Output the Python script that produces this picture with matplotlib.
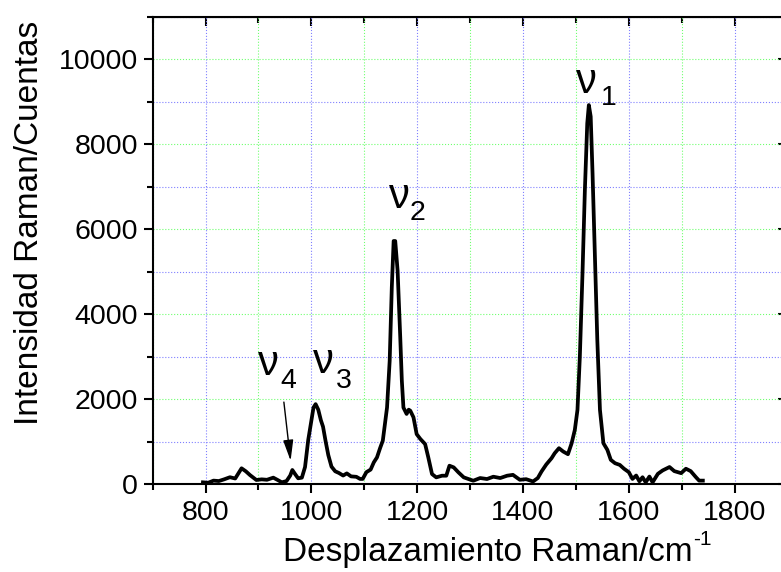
import numpy as np
import matplotlib
matplotlib.use("Agg")
import matplotlib.pyplot as plt
from matplotlib.ticker import MultipleLocator

plt.rcParams['font.family'] = ['Liberation Sans', 'DejaVu Sans']

# Raman spectrum
shift = [795, 805, 815, 825, 835, 846, 856, 868, 876, 884, 896, 906, 916, 928,
         937, 944, 953, 960, 964, 970, 975, 982, 988, 994, 1000, 1004, 1008,
         1013, 1018, 1022, 1027, 1032, 1038, 1045, 1052, 1060, 1067, 1075, 1085,
         1092, 1097, 1104, 1112, 1118, 1124, 1130, 1135, 1140, 1143, 1148, 1152,
         1155.5, 1158.5, 1163, 1168, 1171, 1174, 1180, 1184, 1187, 1193, 1199,
         1206, 1215, 1221, 1228, 1236, 1247, 1255, 1261, 1269, 1278, 1288, 1297,
         1306, 1319, 1332, 1344, 1357, 1370, 1381, 1394, 1406, 1419, 1428, 1435,
         1444, 1454, 1460, 1468, 1476, 1485, 1492, 1498, 1503, 1507.5, 1512.5,
         1517, 1521.5, 1524.5, 1528, 1531.5, 1536, 1540.5, 1545.5, 1552, 1559.5,
         1566, 1574, 1583, 1591, 1600, 1607, 1614, 1620, 1626, 1632, 1639, 1645,
         1655, 1664, 1677, 1686, 1699, 1708, 1717, 1727, 1733, 1740]
counts = [40, 30, 80, 70, 110, 160, 130, 370, 300, 210, 95, 110, 100, 150,
          90, 40, 70, 200, 330, 220, 135, 150, 400, 1035, 1500, 1800, 1880,
          1750, 1500, 1350, 1000, 680, 410, 300, 260, 200, 250, 180, 170,
          120, 120, 280, 340, 510, 627, 850, 1020, 1500, 1800, 2900, 4625,
          5720, 5720, 5020, 3450, 2430, 1800, 1650, 1750, 1725, 1570, 1175,
          1060, 940, 627, 235, 157, 196, 196, 431, 392, 274, 157, 118,
          78, 141, 118, 172, 141, 196, 216, 100, 114, 60, 141, 294,
          460, 608, 726, 843, 765, 702, 961, 1274, 1745, 3000, 4960,
          6920, 8490, 8920, 8650, 7310, 5350, 3390, 1745, 961, 804,
          569, 490, 450, 360, 280, 120, 200, 64, 160, 40, 176, 40,
          240, 320, 400, 304, 256, 360, 304, 160, 80, 80]

# band labels: (subscript, symbol position, subscript position)
bands = [
    ('1', (1500, 9200), (1547, 8918)),
    ('2', (1146, 6494), (1186, 6212)),
    ('3', (1003, 2612), (1046, 2259)),
    ('4', (899, 2565), (942, 2259)),
]
arrow_tail = (948, 1929)
arrow_head = (960.7, 548)

fig = plt.figure(figsize=(7.81, 5.72), dpi=100)
ax = fig.add_axes([0.1955, 0.1538, 0.8128, 0.817])

ax.plot(shift, counts, color='black', lw=2.7, solid_joinstyle='round')

ax.set_xlim(700, 1900)
ax.set_ylim(0, 11000)
ax.xaxis.set_major_locator(MultipleLocator(200))
ax.xaxis.set_minor_locator(MultipleLocator(100))
ax.yaxis.set_major_locator(MultipleLocator(2000))
ax.yaxis.set_minor_locator(MultipleLocator(1000))

ax.xaxis.grid(True, which='major', color='#8080ff', ls=':', lw=0.8)
ax.xaxis.grid(True, which='minor', color='#70ff70', ls=':', lw=0.8)
ax.yaxis.grid(True, which='major', color='#70ff70', ls=':', lw=0.8)
ax.yaxis.grid(True, which='minor', color='#8080ff', ls=':', lw=0.8)
ax.set_axisbelow(True)

for s in ax.spines.values():
    s.set_linewidth(1.5)
ax.tick_params(which='both', direction='out', width=1.5, labelsize=20.5)
ax.tick_params(which='major', length=6.5)
ax.tick_params(which='minor', length=4)
ax.tick_params(axis='x', pad=5)
ax.tick_params(axis='y', pad=4)

top = ax.secondary_xaxis('top')
top.xaxis.set_major_locator(MultipleLocator(200))
top.xaxis.set_minor_locator(MultipleLocator(100))
top.tick_params(which='both', direction='in', width=1.5, labeltop=False)
top.tick_params(which='major', length=6.5)
top.tick_params(which='minor', length=4)
right = ax.secondary_yaxis('right')
right.yaxis.set_major_locator(MultipleLocator(2000))
right.yaxis.set_minor_locator(MultipleLocator(1000))
right.tick_params(which='both', direction='in', width=1.5, labelright=False)
right.tick_params(which='major', length=6.5)
right.tick_params(which='minor', length=4)

for sub, p_nu, p_sub in bands:
    ax.text(p_nu[0], p_nu[1], 'ν', fontsize=30, ha='left', va='baseline')
    ax.text(p_sub[0], p_sub[1], sub, fontsize=20.5, ha='left', va='baseline')

ax.annotate('', xy=arrow_head, xytext=arrow_tail,
            arrowprops=dict(arrowstyle='-|>,head_length=0.9,head_width=0.22',
                            color='black', lw=1, mutation_scale=14,
                            shrinkA=0, shrinkB=0))

# x label with a plain hyphen superscript
xl = fig.text(488 / 781, 11 / 572, 'Desplazamiento Raman/cm',
              fontsize=24, ha='center', va='baseline')
fig.canvas.draw()
bb = xl.get_window_extent()
fig.text(bb.x1 / 781 + 0.001, 11 / 572 + 0.028, '-1', fontsize=15,
         ha='left', va='baseline')
fig.text(30 / 781, 1 - 223 / 572, 'Intensidad Raman/Cuentas', fontsize=24,
         rotation=90, ha='center', va='center')

fig.savefig('out.png', dpi=100)
